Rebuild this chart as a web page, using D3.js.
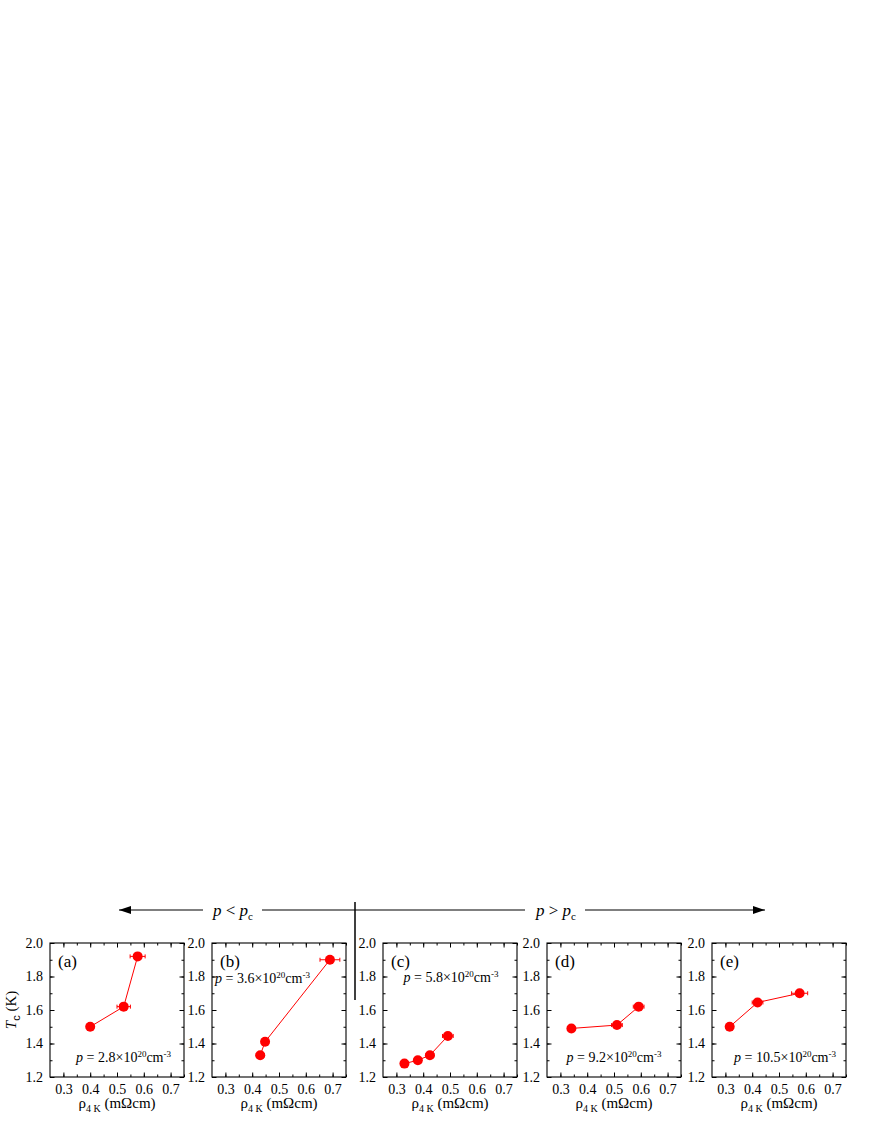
<!DOCTYPE html>
<html>
<head>
<meta charset="utf-8">
<script src="https://cdn.jsdelivr.net/npm/d3@7"></script>
<style>
  body { margin: 0; background: #fff; }
</style>
</head>
<body>
<svg id="chart" width="872" height="1128" font-family="'Liberation Serif', 'Times New Roman', serif"></svg>
<script>
// panel data
const panelLetters = ['(a)', '(b)', '(c)', '(d)', '(e)'];
const densities = ['2.8', '3.6', '5.8', '9.2', '10.5'];
const rho = [
  [0.40, 0.525, 0.577],
  [0.43, 0.448, 0.69],
  [0.33, 0.38, 0.425, 0.492],
  [0.341, 0.511, 0.592],
  [0.316, 0.42, 0.577],
];
const tc = [
  [1.50, 1.62, 1.92],
  [1.33, 1.41, 1.90],
  [1.28, 1.30, 1.33, 1.445],
  [1.49, 1.51, 1.62],
  [1.50, 1.645, 1.70],
];
const rhoErr = [
  [0.012, 0.025, 0.028],
  [0.015, 0.012, 0.037],
  [0.008, 0.012, 0.015, 0.02],
  [0.008, 0.02, 0.02],
  [0.008, 0.02, 0.03],
];
const xTicks = [0.3, 0.4, 0.5, 0.6, 0.7];
const yTicks = [1.2, 1.4, 1.6, 1.8, 2.0];

const svg = d3.select('#chart');
const serif = "'Liberation Serif', 'Times New Roman', serif";
const red = '#ff0000';
const size = 134, plotTop = 943;
const lefts = [50, 212, 383, 547, 712];
// where the density note sits in each panel: [x, y, anchor]
const notePos = [
  [121, 119, 'end'],
  [3, 40, 'start'],
  [68, 39, 'middle'],
  [67, 119, 'middle'],
  [124, 119, 'end'],
];

// header arrows
svg.append('defs').append('marker')
  .attr('id', 'head').attr('viewBox', '0 0 12 8').attr('refX', 12).attr('refY', 4)
  .attr('markerWidth', 13).attr('markerHeight', 8).attr('markerUnits', 'userSpaceOnUse')
  .attr('orient', 'auto')
  .append('path').attr('d', 'M0,0 L12,4 L0,8 z').attr('fill', '#000');

const hy = 910;
svg.append('line').attr('x1', 203).attr('y1', hy).attr('x2', 119).attr('y2', hy)
  .attr('stroke', '#000').attr('stroke-width', 1.2).attr('marker-end', 'url(#head)');
svg.append('line').attr('x1', 262).attr('y1', hy).attr('x2', 525).attr('y2', hy)
  .attr('stroke', '#000').attr('stroke-width', 1.2);
svg.append('line').attr('x1', 585).attr('y1', hy).attr('x2', 765).attr('y2', hy)
  .attr('stroke', '#000').attr('stroke-width', 1.2).attr('marker-end', 'url(#head)');
svg.append('line').attr('x1', 355).attr('y1', 902).attr('x2', 355).attr('y2', 1000)
  .attr('stroke', '#000').attr('stroke-width', 1.5);

function header(x, sym) {
  const t = svg.append('text').attr('x', x).attr('y', hy + 6).attr('text-anchor', 'middle')
    .style('font-size', '17px');
  t.append('tspan').style('font-style', 'italic').text('p');
  t.append('tspan').text(' ' + sym + ' ');
  t.append('tspan').style('font-style', 'italic').text('p');
  t.append('tspan').attr('dy', 4).style('font-size', '11px').text('c');
}
header(233, '<');
header(556, '>');

// y axis title
const yl = svg.append('text')
  .attr('transform', `translate(16,${plotTop + size / 2}) rotate(-90)`)
  .attr('text-anchor', 'middle').style('font-size', '15px');
yl.append('tspan').style('font-style', 'italic').text('T');
yl.append('tspan').attr('dy', 4).style('font-size', '11px')
  .style('font-family', "'Liberation Sans', Arial, sans-serif").text('c');
yl.append('tspan').attr('dy', -4).text(' (K)');

panelLetters.forEach((letter, i) => {
  const g = svg.append('g').attr('transform', `translate(${lefts[i]},${plotTop})`);
  const x = d3.scaleLinear().domain([0.25, 0.75]).range([0, size]);
  const y = d3.scaleLinear().domain([1.2, 2.0]).range([size, 0]);

  const xMinor = d3.range(0.3, 0.76, 0.05).map((v) => +v.toFixed(2));
  const yMinor = d3.range(1.3, 2.0, 0.1).map((v) => +v.toFixed(1));

  const axes = [
    [d3.axisBottom(x), `translate(0,${size})`, true, xMinor],
    [d3.axisTop(x), 'translate(0,0)', false, xMinor],
    [d3.axisLeft(y), 'translate(0,0)', true, yMinor],
    [d3.axisRight(y), `translate(${size},0)`, false, yMinor],
  ];
  axes.forEach(([ax, tr, labels, minor], k) => {
    const major = k < 2 ? xTicks : yTicks;
    g.append('g').attr('transform', tr)
      .call(ax.tickValues(minor).tickSize(-2.5).tickFormat(''))
      .call((s) => s.select('.domain').remove());
    const a = g.append('g').attr('transform', tr)
      .call(ax.tickValues(major).tickSize(-4.5).tickPadding(labels ? 7 : 0)
        .tickFormat(labels ? d3.format('.1f') : ''));
    a.select('.domain').remove();
    a.attr('font-family', serif).attr('font-size', 14);
    a.selectAll('text').attr('fill', '#000');
  });
  g.selectAll('g').attr('font-family', serif);
  g.selectAll('.tick line').attr('stroke', '#000').attr('stroke-width', 1);
  g.append('rect').attr('width', size).attr('height', size)
    .attr('fill', 'none').attr('stroke', '#000').attr('stroke-width', 1.1);

  const pts = rho[i].map((r, j) => ({ r: r, t: tc[i][j], e: rhoErr[i][j] }));

  g.append('path').datum(pts)
    .attr('d', d3.line().x((d) => x(d.r)).y((d) => y(d.t)))
    .attr('fill', 'none').attr('stroke', red).attr('stroke-width', 1);

  const eb = g.selectAll('g.err').data(pts).enter().append('g').classed('err', true);
  eb.append('line')
    .attr('x1', (d) => x(d.r - d.e)).attr('x2', (d) => x(d.r + d.e))
    .attr('y1', (d) => y(d.t)).attr('y2', (d) => y(d.t))
    .attr('stroke', red).attr('stroke-width', 1);
  [-1, 1].forEach((s) => {
    eb.append('line')
      .attr('x1', (d) => x(d.r + s * d.e)).attr('x2', (d) => x(d.r + s * d.e))
      .attr('y1', (d) => y(d.t) - 2).attr('y2', (d) => y(d.t) + 2)
      .attr('stroke', red).attr('stroke-width', 1);
  });

  g.selectAll('circle').data(pts).enter().append('circle')
    .attr('cx', (d) => x(d.r)).attr('cy', (d) => y(d.t)).attr('r', 5)
    .attr('fill', red);

  g.append('text').attr('x', 8).attr('y', 24).style('font-size', '17px').text(letter);

  const [nx, ny, anchor] = notePos[i];
  const note = g.append('text').attr('x', nx).attr('y', ny).attr('text-anchor', anchor)
    .style('font-size', '14px');
  note.append('tspan').style('font-style', 'italic').text('p');
  note.append('tspan').text(' = ' + densities[i] + '×10');
  note.append('tspan').attr('dy', -5).style('font-size', '9px').text('20');
  note.append('tspan').attr('dy', 5).text('cm');
  note.append('tspan').attr('dy', -5).style('font-size', '9px').text('-3');

  const xl = svg.append('text').attr('x', lefts[i] + size / 2).attr('y', plotTop + size + 31)
    .attr('text-anchor', 'middle').style('font-size', '15px');
  xl.append('tspan').text('ρ');
  xl.append('tspan').attr('dy', 4).style('font-size', '10px').text('4 K');
  xl.append('tspan').attr('dy', -4).text(' (mΩcm)');
});
</script>
</body>
</html>
